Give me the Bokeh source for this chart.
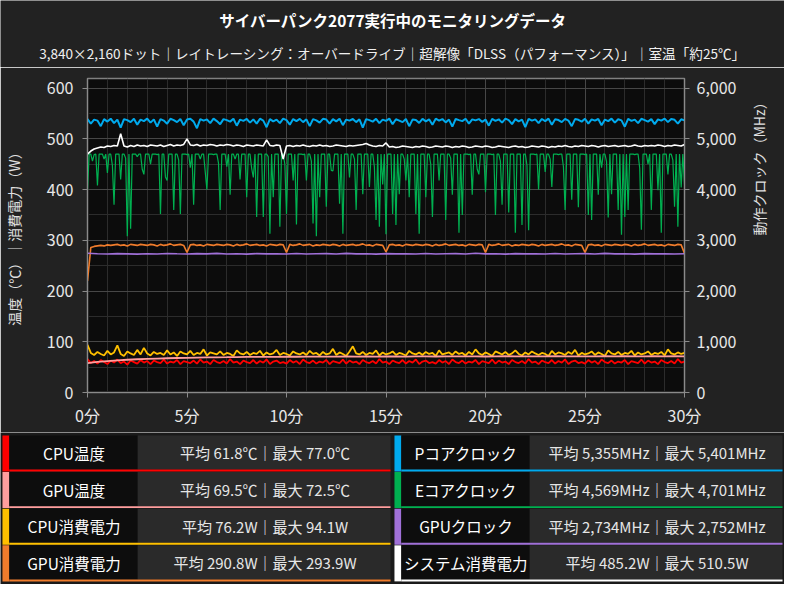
import math
import numpy as np
from bokeh.plotting import figure
from bokeh.layouts import column
from bokeh.models import Range1d, LinearAxis, SingleIntervalTicker, NumeralTickFormatter
from bokeh.core.properties import value
from bokeh.embed import file_html
from bokeh.resources import INLINE

FONT = "Noto Sans CJK JP"

# ---------------- text ----------------
title_text = "サイバーパンク2077実行中のモニタリングデータ"
subtitle_text = "3,840×2,160ドット｜レイトレーシング：オーバードライブ｜超解像「DLSS（パフォーマンス）」｜室温「約25℃」"
left_axis_label = "温度（℃）｜消費電力（W）"
right_axis_label = "動作クロック（MHz）"
x_ticks = [0, 5, 10, 15, 20, 25, 30]
x_tick_labels = ["0分", "5分", "10分", "15分", "20分", "25分", "30分"]

# ---------------- data (minutes) ----------------
t5 = np.arange(361) / 12.0    # 5 s sampling
t10 = np.arange(181) / 6.0    # 10 s sampling
t30 = np.arange(61) / 2.0     # 30 s sampling

pcore_clock = [5390,5300,5380,5360,5250,5390,5340,5398,5310,5380,
5220,5390,5370,5330,5395,5280,5380,5350,5399,5320,
5385,5240,5390,5360,5300,5396,5370,5330,5390,5270,
5380,5395,5340,5210,5390,5360,5385,5310,5398,5350,
5290,5390,5370,5340,5396,5260,5380,5355,5392,5320,
5385,5300,5397,5360,5230,5390,5345,5380,5310,5399,
5370,5280,5390,5350,5394,5330,5385,5250,5390,5365,
5320,5396,5380,5300,5388,5345,5398,5270,5380,5360,
5392,5330,5385,5220,5390,5370,5340,5396,5310,5380,
5355,5399,5290,5386,5360,5330,5392,5250,5380,5370,
5315,5395,5345,5385,5280,5398,5360,5390,5325,5380,
5240,5392,5370,5350,5396,5300,5385,5365,5390,5335,
5380,5260,5394,5355,5386,5320,5398,5370,5290,5390,
5345,5380,5230,5395,5360,5384,5310,5392,5350,5399,
5280,5386,5370,5330,5394,5360,5250,5390,5375,5340,
5396,5300,5385,5360,5392,5270,5380,5350,5398,5320,
5388,5365,5240,5394,5355,5380,5310,5396,5370,5340,
5390,5290,5385,5360,5399,5330,5392,5375,5300,5386,
5365]

ecore_clock = [
3990,4700,4700,4560,4690,4700,4080,4700,4700,4700,4600,4700,4330,4700,4700,4480,3700,4700,4700,4700,
4200,4700,4700,4620,3080,4700,3230,4700,4700,4700,4650,4700,4700,4400,4300,4700,4700,4700,4500,4700,
4700,4700,4690,4700,3520,4700,4700,4250,4180,4700,4700,4700,3600,4700,4700,4580,3520,4700,4700,4700,
4690,4700,4430,4700,3700,4700,4700,4700,4600,4700,4700,4350,4000,4700,4700,4700,4690,4700,4700,4520,
3600,4700,4700,4700,4450,4700,3900,4700,4700,4600,4700,4700,4200,4700,4700,4700,3850,4700,4700,4420,
4240,4700,3460,4700,4700,4700,3460,4700,4700,4650,3130,4700,3850,4700,4700,4700,3270,4700,4700,4500,
3520,4700,4700,4700,4180,4700,3310,4700,4700,4700,4690,4700,4180,4700,4700,4560,3330,4700,3080,4700,
3850,4700,4700,4700,3660,4700,4700,4380,4370,4700,4700,4700,3720,4700,3130,4700,4700,4700,4240,4700,
4700,4600,3600,4700,4700,4700,3910,4700,4700,4700,4050,4700,4700,4450,3400,4700,3270,4700,4100,4700,
3120,4700,4700,4700,3520,4700,3300,4700,3910,4700,4700,4600,4180,4700,3850,4700,4700,4700,3520,4700,
3130,4700,4700,4700,3850,4700,4700,4500,3460,4700,4700,4700,4180,4700,4700,4700,3400,4700,4700,4620,
3900,4700,4700,4700,3150,4700,3500,4700,4700,4700,4690,4700,3900,4700,4700,4400,4300,4700,4700,4700,
3950,4700,4700,4700,4690,4700,3500,4700,4700,4560,3700,4700,4700,4700,3550,4700,4700,4700,3150,4700,
4700,4700,3300,4700,4700,4480,3200,4700,4700,4700,4690,4700,4000,4700,4700,4700,4350,4700,4700,4600,
4050,4700,4700,4700,4690,4700,4700,4450,3600,4700,4700,4700,3800,4700,4700,4700,3650,4700,4700,4700,
4690,4700,3500,4700,3400,4700,4700,4700,3900,4700,4430,4700,4700,4550,3450,4700,3910,4700,4700,4700,
3600,4700,3110,4700,3460,4700,3600,4700,4700,4700,4690,4700,4700,4420,3210,4700,4700,4700,4500,4700,
3600,4700,4700,4700,3990,4700,3150,4700,4700,4700,4300,4700,4700,4580,3660,4700,3270,4700,4040,4700,
4100]

system_power = [470,476,480,482,484,483,486,485,487,486,
510,486,484,487,485,488,486,487,485,488,
487,486,488,485,487,489,486,488,487,489,
500,488,487,489,486,488,487,489,488,486,
488,487,489,488,486,488,487,485,488,487,
486,488,487,486,498,487,486,488,487,460,
486,487,485,487,486,488,486,485,487,486,
488,486,487,485,486,488,487,486,485,487,
486,487,488,489,491,488,486,485,487,486,
492,484,485,483,484,486,485,484,483,485,
484,486,485,483,484,486,485,484,486,485,
483,485,484,486,485,483,484,486,485,484,
486,485,483,484,486,485,484,483,485,486,
484,485,483,484,486,485,484,486,485,483,
485,484,486,485,487,485,484,486,485,487,
486,485,487,486,484,486,487,485,486,487,
485,486,487,485,486,488,486,485,487,486,
487,486,488,487,485,487,486,488,487,486,
489]

gpu_power = [220,286,288,289,290,289,291,290,291,292,
290,291,289,292,291,290,292,291,290,292,
291,289,292,290,291,293,290,291,292,290,
276,291,292,290,291,289,292,291,290,292,
291,290,292,291,289,292,290,291,293,290,
291,292,290,291,289,292,291,290,292,291,
276,292,290,291,293,290,291,292,289,291,
290,292,291,290,292,291,289,292,290,291,
292,290,291,293,290,291,289,292,291,290,
277,291,292,290,291,289,292,291,290,292,
291,290,292,291,289,292,290,291,293,290,
291,292,290,291,289,292,291,290,292,291,
276,292,290,291,293,290,291,292,289,291,
290,292,291,290,292,291,289,292,290,291,
292,290,291,293,290,291,289,292,291,290,
276,291,292,290,291,289,292,291,290,292,
291,290,292,291,289,292,290,291,293,290,
291,292,290,291,289,292,291,290,292,291,
274]

cpu_power = [94,78,74,80,76,73,82,75,79,93,
76,72,81,77,74,84,75,88,77,73,
80,76,78,74,83,75,79,72,81,77,
75,82,74,78,76,85,73,79,77,75,
81,74,78,76,72,83,77,75,80,74,
78,76,82,73,79,75,77,84,74,78,
76,73,81,77,75,79,74,82,76,78,
73,80,75,77,86,74,79,76,72,81,
91,77,75,80,74,78,76,83,73,79,
75,77,81,74,78,76,73,82,77,75,
79,74,80,76,78,72,83,75,77,79,
74,81,76,78,73,80,75,85,77,74,
79,76,72,81,78,75,80,74,77,83,
76,73,79,75,81,77,74,78,76,72,
82,75,79,77,74,80,76,84,73,78,
75,77,81,74,79,76,72,83,77,75,
80,74,78,76,82,73,79,75,77,81,
74,78,76,80,73,85,77,75,79,76,
78]

cpu_temp = [66,58,62,57,64,60,56,63,59,65,
58,61,55,63,60,57,64,59,62,56,
63,60,58,65,57,61,59,64,56,62,
60,58,63,57,65,59,61,56,64,60,
58,62,57,66,59,61,56,63,60,58,
64,57,62,59,65,56,61,63,58,60,
57,64,59,62,56,65,60,58,63,57,
61,59,64,56,62,60,58,65,57,63,
59,61,56,64,60,58,62,57,66,59,
61,56,63,60,58,64,57,62,59,65,
56,61,63,58,60,57,64,59,62,56,
65,60,58,63,57,61,59,64,56,62,
60,58,65,57,63,59,61,56,64,60,
58,62,57,66,59,61,56,63,60,58,
64,57,62,59,65,56,61,63,58,60,
57,64,59,62,56,65,60,58,63,57,
61,59,64,56,62,60,58,65,57,63,
59,61,56,64,60,58,62,57,66,59,
61]

gpu_temp = [58.0,60.2,62.0,63.4,64.6,65.5,66.3,66.9,67.5,68.0,
68.4,68.8,69.1,69.4,69.6,69.9,70.1,70.2,70.4,70.3,
70.6,70.5,70.8,70.7,70.9,70.6,71.0,70.8,71.1,70.9,
71.2,71.0,70.8,71.1,71.3,71.0,71.2,71.4,71.1,71.3,
71.0,71.2,71.5,71.3,71.1,71.4,71.2,71.6,71.3,71.1,
71.4,71.2,71.5,71.3,71.6,71.4,71.2,71.5,71.3,71.6,
71.4]

gpu_clock = [2745,2735,2730,2738,2733,2728,2736,2731,2740,2734,
2729,2737,2732,2742,2730,2735,2728,2738,2733,2736,
2731,2740,2729,2734,2737,2730,2743,2732,2735,2728,
2738,2733,2736,2731,2741,2729,2734,2737,2730,2744,
2732,2735,2728,2738,2733,2736,2731,2740,2729,2734,
2737,2730,2742,2732,2735,2728,2738,2733,2736,2731,
2734]

# legend / stats table
names_left = ["CPU温度", "GPU温度", "CPU消費電力", "GPU消費電力"]
avg_left = [61.8, 69.5, 76.2, 290.8]
max_left = [77.0, 72.5, 94.1, 293.9]
unit_left = ["℃", "℃", "W", "W"]
names_right = ["Pコアクロック", "Eコアクロック", "GPUクロック", "システム消費電力"]
avg_right = [5355, 4569, 2734, 485.2]
max_right = [5401, 4701, 2752, 510.5]
unit_right = ["MHz", "MHz", "MHz", "W"]

C_CPU_T = "#ff0000"
C_GPU_T = "#ff9e9e"
C_CPU_P = "#ffc000"
C_GPU_P = "#f07c2c"
C_PCORE = "#00aaee"
C_ECORE = "#00b050"
C_GPU_C = "#a070d8"
C_SYS = "#ffffff"
colors_left = [C_CPU_T, C_GPU_T, C_CPU_P, C_GPU_P]
colors_right = [C_PCORE, C_ECORE, C_GPU_C, C_SYS]

BG = "#222222"


def no_align(fig):
    try:
        fig.frame_align = False
    except Exception:
        pass


# ---------------- header ----------------
hdr = figure(width=784, height=67, x_range=Range1d(0, 800), y_range=Range1d(68.4, 0),
             x_axis_location=None, y_axis_location=None, min_border=0,
             toolbar_location=None, output_backend="svg")
no_align(hdr)
hdr.grid.visible = False
hdr.outline_line_color = None
hdr.background_fill_color = BG
hdr.border_fill_color = BG
hdr.text(x=[400], y=[20], text=[title_text], text_align="center", text_baseline="middle",
         text_color="#ffffff", text_font=value(FONT), text_font_style="bold", text_font_size="15.5px")
hdr.text(x=[400], y=[54], text=[subtitle_text], text_align="center", text_baseline="middle",
         text_color="#f0f0f0", text_font=value(FONT), text_font_size="13.6px")

# ---------------- chart ----------------
p = figure(width=784, height=365, x_range=Range1d(0, 30), y_range=Range1d(0, 619),
           min_border_left=86, min_border_right=100, min_border_top=11, min_border_bottom=40,
           toolbar_location=None, output_backend="svg")
no_align(p)
p.extra_y_ranges = {"clk": Range1d(0, 6190)}
rax = LinearAxis(y_range_name="clk", axis_label=right_axis_label)
p.add_layout(rax, "right")
p.background_fill_color = "#0c0c0c"
p.border_fill_color = BG
p.outline_line_color = "#808080"
p.outline_line_width = 1.5

p.xaxis.ticker = SingleIntervalTicker(interval=5, num_minor_ticks=5)
p.xgrid.ticker = SingleIntervalTicker(interval=5, num_minor_ticks=5)
p.xaxis.major_label_overrides = {t: lab for t, lab in zip(x_ticks, x_tick_labels)}
p.yaxis[0].ticker = SingleIntervalTicker(interval=100, num_minor_ticks=2)
p.yaxis[0].axis_label = left_axis_label
p.ygrid.ticker = SingleIntervalTicker(interval=100, num_minor_ticks=2)
rax.ticker = SingleIntervalTicker(interval=1000, num_minor_ticks=2)
rax.formatter = NumeralTickFormatter(format="0,0")

for g in (p.xgrid, p.ygrid):
    g.grid_line_color = "#474747"
    g.grid_line_width = 1
    g.minor_grid_line_color = "#2c2c2c"
    g.minor_grid_line_width = 1

for ax in p.axis:
    ax.axis_line_color = "#8a8a8a"
    ax.major_tick_line_color = "#8a8a8a"
    ax.major_tick_out = 5
    ax.major_tick_in = 0
    ax.minor_tick_line_color = None
    ax.major_label_text_color = "#e8e8e8"
    ax.major_label_text_font = FONT
    ax.major_label_text_font_size = "16px"
    ax.axis_label_text_color = "#e0e0e0"
    ax.axis_label_text_font = FONT
    ax.axis_label_text_font_size = "14px"
    ax.axis_label_text_font_style = "normal"
p.xaxis.major_label_standoff = 5
p.yaxis[0].major_label_standoff = 9
p.yaxis[0].axis_label_standoff = 20
rax.major_label_standoff = 7
rax.axis_label_standoff = 20
# right axis label reads bottom-to-top like the left one
try:
    rax.axis_label_orientation = math.pi / 2
except Exception:
    pass

p.line(t5, ecore_clock, y_range_name="clk", line_color=C_ECORE, line_width=1.2)
p.line(t10, pcore_clock, y_range_name="clk", line_color=C_PCORE, line_width=2)
p.line(t10, system_power, line_color=C_SYS, line_width=1.6)
p.line(t10, gpu_power, line_color=C_GPU_P, line_width=1.6)
p.line(t30, gpu_clock, y_range_name="clk", line_color=C_GPU_C, line_width=1.6)
p.line(t10, cpu_power, line_color=C_CPU_P, line_width=1.8)
p.line(t10, cpu_temp, line_color=C_CPU_T, line_width=1.8)
p.line(t30, gpu_temp, line_color=C_GPU_T, line_width=1.8)

# ---------------- stats table ----------------
tb = figure(width=784, height=152, x_range=Range1d(0, 800), y_range=Range1d(600, 444),
            x_axis_location=None, y_axis_location=None, min_border=0,
            toolbar_location=None, output_backend="svg")
no_align(tb)
tb.grid.visible = False
tb.outline_line_color = None
tb.background_fill_color = "#1a1a1a"
tb.border_fill_color = "#1a1a1a"


def fmt(v, u):
    if u == "MHz":
        return "{:,}{}".format(int(v), u)
    return "{:.1f}{}".format(v, u)


PITCH = 37.6
for col, (names, avgs, maxs, units, cols) in enumerate([
        (names_left, avg_left, max_left, unit_left, colors_left),
        (names_right, avg_right, max_right, unit_right, colors_right)]):
    x0 = 400 * col
    tops = [447 + PITCH * i for i in range(4)]
    tb.quad(left=x0 + 2, right=x0 + 9, top=tops, bottom=[t + 37 for t in tops],
            fill_color=cols, line_color=None)
    tb.quad(left=x0 + 9, right=x0 + 140, top=tops, bottom=[t + 35 for t in tops],
            fill_color="#0d0d0d", line_color=None)
    tb.quad(left=x0 + 140, right=x0 + 398, top=tops, bottom=[t + 35 for t in tops],
            fill_color="#2a2a2a", line_color=None)
    tb.quad(left=x0 + 9, right=x0 + 398, top=[t + 35 for t in tops], bottom=[t + 37 for t in tops],
            fill_color=cols, line_color=None)
    tb.text(x=[x0 + 75] * 4, y=[t + 18 for t in tops], text=names,
            text_align="center", text_baseline="middle", text_color="#ffffff",
            text_font=value(FONT), text_font_size="15.5px")
    stats = ["平均 {}｜最大 {}".format(fmt(a, u), fmt(m, u)) for a, m, u in zip(avgs, maxs, units)]
    tb.text(x=[x0 + 270] * 4, y=[t + 18 for t in tops], text=stats,
            text_align="center", text_baseline="middle", text_color="#e6e6e6",
            text_font=value(FONT), text_font_size="15px")

layout = column(hdr, p, tb, spacing=0)
open("out.html", "w").write(file_html(layout, INLINE))
